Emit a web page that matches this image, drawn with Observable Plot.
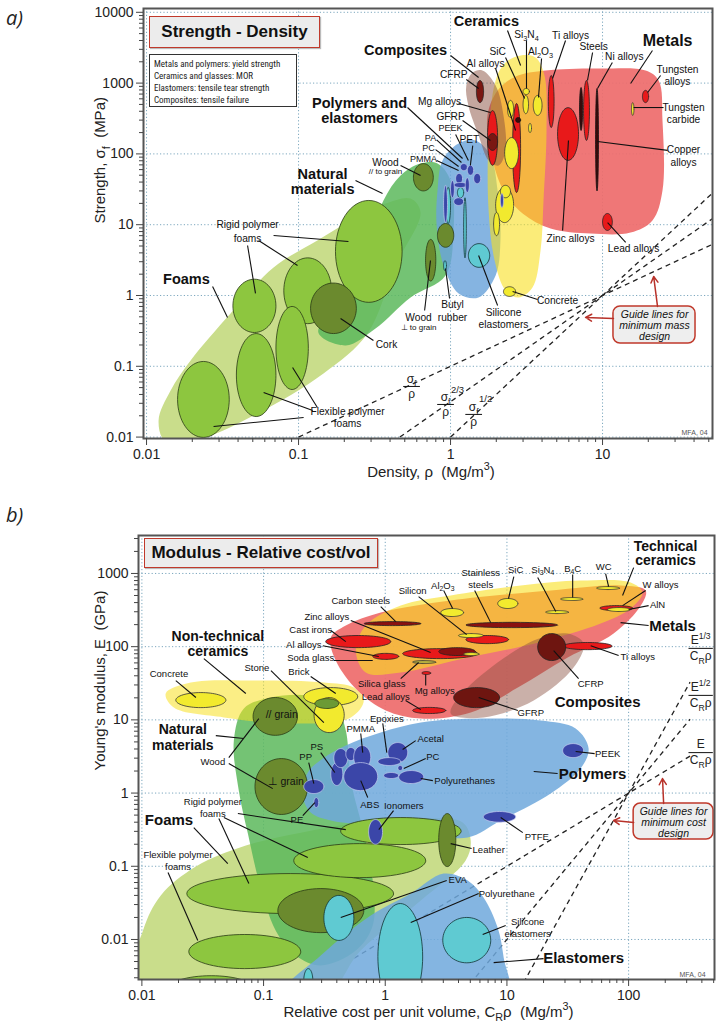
<!DOCTYPE html>
<html><head><meta charset="utf-8">
<script src="https://cdn.jsdelivr.net/npm/d3@7"></script>
<script src="https://cdn.jsdelivr.net/npm/@observablehq/plot@0.6"></script>
<style>
body{margin:0;background:#fff;font-family:"Liberation Sans",Arial,Helvetica,sans-serif;}
#wrap{position:relative;width:716px;height:1027px;overflow:hidden;background:#fff;}
.abs{position:absolute;}
.tag{position:absolute;font-family:"Open Sans","Liberation Sans",sans-serif;font-style:italic;font-size:20px;color:#222;}
.title{position:absolute;box-sizing:border-box;border:1.5px solid #c0392b;background:#ececec;font-weight:bold;font-size:17px;display:flex;align-items:center;justify-content:center;color:#111;box-shadow:1px 1px 1px #bbb;}
.info{position:absolute;box-sizing:border-box;border:1.5px solid #333;background:#fff;font-family:"Liberation Sans Narrow","Roboto Condensed","Liberation Sans",sans-serif;font-size:9px;line-height:12px;padding:3px 4px;color:#222;}
</style></head>
<body><div id="wrap">
<div id="chartA" class="abs" style="left:0;top:0"></div>
<div id="chartB" class="abs" style="left:0;top:490px"></div>
<div class="tag" style="left:6px;top:4px">a)</div>
<div class="tag" style="left:6px;top:501px">b)</div>
<div class="title" style="left:149px;top:16px;width:171px;height:32px">Strength - Density</div>
<div class="info" style="left:149px;top:54px;width:148px;height:53px">Metals and polymers: yield strength<br>Ceramics and glasses: MOR<br>Elastomers: tensile tear strength<br>Composites: tensile failure</div>
<div class="title" style="left:144px;top:538px;width:234px;height:30px">Modulus - Relative cost/vol</div>
</div>
<script>
// ================= CHART A : Strength (MPa) vs Density (Mg/m3) =================
const aXTicks = [0.01, 0.1, 1, 10];
const aYTicks = [0.01, 0.1, 1, 10, 100, 1000, 10000];

// material bubbles: [name, density min, density max, strength min, strength max]
const aFoamCells = [
  ["Rigid polymer foam (low)", 0.037, 0.071, 0.30, 1.7],
  ["Rigid polymer foam (mid)", 0.08, 0.165, 0.40, 3.4],
  ["Rigid polymer foam (high)", 0.175, 0.48, 0.8, 22],
  ["Flexible polymer foam (low)", 0.016, 0.035, 0.0099, 0.117],
  ["Flexible polymer foam (mid)", 0.039, 0.071, 0.0195, 0.29],
  ["Flexible polymer foam (high)", 0.071, 0.116, 0.047, 0.70]
];
const aNaturalCells = [
  ["Cork", 0.12, 0.24, 0.29, 1.5],
  ["Wood // grain", 0.57, 0.77, 30, 73],
  ["Wood ⊥ grain", 0.685, 0.80, 1.6, 6.2],
  ["Dense wood", 0.82, 1.05, 4.8, 10.4]
];
const aMetalCells = [
  ["Mg alloys", 1.75, 2.04, 69, 410],
  ["Al alloys", 2.56, 2.89, 28.5, 515],
  ["Ti alloys", 4.4, 4.8, 236, 1280],
  ["Zinc alloys", 5.06, 6.95, 81, 450],
  ["Steels", 7.5, 8.2, 155, 1090],
  ["Tungsten alloys", 18.3, 20.1, 530, 790],
  ["Lead alloys", 10, 11.6, 8.3, 14.4]
];
const aMetalDarkCells = [
  ["Al alloys (high strength)", 2.68, 2.89, 278, 327],
  ["Stainless steels", 7.06, 7.39, 214, 867],
  ["Copper alloys", 9.0, 9.4, 30, 840]
];
const aCeramicCells = [
  ["Si3N4", 3.0, 3.3, 690, 840],
  ["SiC", 3.0, 3.26, 370, 670],
  ["Al2O3", 3.5, 4.0, 350, 670],
  ["B4C", 2.37, 2.6, 327, 570],
  ["Silica glass", 2.27, 2.8, 62, 170],
  ["AlN", 3.26, 3.41, 200, 270],
  ["Stone", 1.98, 2.6, 10.7, 33.5],
  ["Brick", 1.92, 2.1, 7.0, 14.9],
  ["Soda glass", 2.13, 2.48, 24, 36],
  ["Concrete", 2.23, 2.68, 0.97, 1.33],
  ["Tungsten carbide", 15.5, 16.1, 350, 530]
];
const aCompositeCells = [
  ["CFRP", 1.48, 1.65, 530, 1090],
  ["GFRP", 1.75, 2.04, 112, 194]
];
const aElastomerCells = [
  ["Silicone elastomers", 1.31, 1.81, 2.5, 5.4],
  ["Butyl rubber", 0.90, 0.94, 2.25, 3.1],
  ["Polyurethane", 1.22, 1.27, 3.4, 24],
  ["Neoprene", 1.11, 1.22, 24, 33.5],
  ["Natural rubber", 0.93, 1.0, 10.4, 33.5]
];
const aPolymerCells = [
  ["PA", 1.16, 1.29, 58, 73],
  ["PET", 1.29, 1.42, 50, 69],
  ["PC", 1.42, 1.58, 38, 53],
  ["PMMA", 1.08, 1.2, 38, 53],
  ["PEEK", 1.05, 1.29, 33.5, 39.5],
  ["PS", 1.05, 1.22, 18.7, 24],
  ["PP", 1.0, 1.06, 24, 42],
  ["ABS", 1.25, 1.33, 28.5, 46],
  ["PE", 0.90, 0.955, 10.7, 36],
  ["PTFE", 2.13, 2.23, 17.5, 27.6]
];

// family envelopes: [density, strength] outline vertices
const aEnvFoams = [[0.012,0.0172],[0.0144,0.0455],[0.0195,0.121],[0.0357,0.557],[0.0685,2.49],[0.133,5.98],[0.22,11.5],[0.373,19.9],[0.546,23.4],[0.635,14.9],[0.435,2.65],[0.284,0.29],[0.146,0.079],[0.0537,0.0215],[0.0227,0.0095],[0.0133,0.0087]];
const aEnvNatural = [[0.135,0.30],[0.189,0.85],[0.276,4.32],[0.362,22],[0.469,49.5],[0.635,73],[0.821,73],[1.0,42],[1.046,8.28],[0.927,1.92],[0.546,0.94],[0.321,0.342],[0.204,0.197]];
const aEnvPolymers = [[0.821,30.4],[0.886,80.7],[1.13,140],[1.46,155],[1.83,95],[2.04,30.4],[2.13,5.98],[1.98,1.92],[1.53,0.94],[1.13,1.07],[0.90,2.65],[0.81,9.75]];
const aEnvMetals = [[1.75,349],[2.04,786],[2.68,1240],[4.22,1507],[9.7,1607],[19.2,1507],[23.4,1088],[24.8,296],[24.8,30.4],[21.3,11.5],[15.3,7.76],[8.34,7.51],[4.55,8.84],[2.98,14.4],[2.23,30.4],[1.83,112]];
const aEnvCeramics = [[1.98,1088],[2.30,1954],[2.89,2455],[3.62,2300],[4.15,1280],[4.28,214],[4.09,22],[3.91,4.32],[3.46,1.30],[2.80,0.94],[2.30,1.18],[1.95,3.12],[1.78,15.9],[1.78,155]];
const aEnvComposites = [[1.27,925],[1.40,1412],[1.62,1507],[1.98,925],[2.23,349],[2.30,112],[2.07,68.6],[1.78,80.7],[1.53,182],[1.31,483]];

// guide lines for minimum mass design: [x1, y1, x2, y2]
const aGuides = [[0.1,0.01,60,6],[0.464,0.01,60,14.7],[1,0.01,60,36]];
const aFractions = [["σ_{f}","ρ","",0.554,0.0519],["σ_{f}","ρ","2/3",0.927,0.0289],["σ_{f}","ρ","1/2",1.42,0.0209]];
const aGuideBox = [[11.8,40.9,0.21,0.70]];
const aGuideText = [["Guide lines for",22,0.539],["minimum mass",22,0.377],["design",22,0.264]];
const aArrows = [[11.8,0.473,7.73,0.489],[23,0.70,21.7,1.85]];

const aGroupLabels = [
  ["Ceramics",1.72,7410],["Composites",0.506,2885],["Polymers and",0.252,515],["elastomers",0.252,316],
  ["Natural",0.144,51.2],["materials",0.144,31.4],["Foams",0.0183,1.68]
];
const aBigLabels = [["Metals",26.8,4000]];
const aLabels = [
  ["Si_{3}N_{4}",3.16,4855],["SiC",2.04,2794],["Al_{2}O_{3}",3.91,2794],["Al alloys",1.70,1892],
  ["Ti alloys",6.16,4700],["Steels",8.73,3289],["Ni alloys",13.9,2376],
  ["Tungsten",31.1,1556],["alloys",31.1,1054],["Tungsten",34.1,452],["carbide",34.1,306],
  ["Copper",34.1,115],["alloys",34.1,75.6],["Zinc alloys",6.16,6.38],["Lead alloys",16.0,4.61],
  ["Concrete",5.06,0.85],["Silicone",2.23,0.575],["elastomers",2.23,0.389],
  ["Butyl",1.03,0.746],["rubber",1.03,0.489],["Wood",0.616,0.489],["Wood",0.373,75.6],
  ["PET",1.33,160],["GFRP",1.0,338],["Mg alloys",0.847,550],["CFRP",1.05,1322],
  ["Rigid polymer",0.0462,10.1],["foams",0.0462,6.38],["Cork",0.379,0.203],
  ["Flexible polymer",0.21,0.023],["foams",0.21,0.0156]
];
const aPolymerLabels = [["PEEK",1.0,228],["PA",0.738,165],["PC",0.717,119],["PMMA",0.664,84.7]];
const aTinyLabels = [["⊥ to grain",0.616,0.353],["// to grain",0.373,56.4]];
const aLeaders = [
  [3.16,4000,3.16,840],[2.30,2300,3.07,606],[3.97,2225,3.79,626],[1.98,1607,2.68,214],
  [5.71,4000,4.69,1161],[8.6,2705,7.96,1088],[11.6,1954,9.27,840],[21.3,2885,15.3,987],
  [24.1,1280,19.8,736],[16.0,452,25.2,452],[9.27,150,26.8,112],[5.97,155,5.46,8.28],
  [10.8,10.7,14.2,5.61],[2.56,1.14,3.74,0.878],[1.53,3.67,2.04,0.722],[0.927,2.41,0.985,0.907],
  [0.738,3.12,0.675,0.614],[0.469,68.6,0.635,49.5],[0.81,80.7,1.13,58.3],[0.797,115,1.13,66.4],
  [0.81,158,1.18,75.6],[1.08,188,1.31,80.7],[1.40,131,1.35,68.6],[1.2,296,1.83,155],
  [1.13,515,1.83,384],[1.27,1124,1.53,840],[1.0,2455,1.53,1200],[2.37,5535,2.89,1773],
  [0.521,452,1.2,86.1],[0.237,42.1,0.357,27.6],[0.0272,1.34,0.0341,0.489],
  [0.0462,5.08,0.0521,1.07],[0.0546,5.98,0.0985,2.65],[0.0685,7.04,0.213,5.79],
  [0.189,0.473,0.311,0.231],[0.108,0.0189,0.0276,0.0141],[0.124,0.0238,0.0589,0.0427],
  [0.133,0.0262,0.0914,0.0962]
];
const aCredit = [["MFA, 04",49.1,0.0116]];

// ================= CHART B : Modulus (GPa) vs Relative cost per unit volume =================
const bXTicks = [0.01, 0.1, 1, 10, 100];
const bYTicks = [0.01, 0.1, 1, 10, 100, 1000];

const bFoamCells = [
  ["Flexible polymer foam (low)", 0.0243, 0.202, 0.0040, 0.0117],
  ["Flexible polymer foam (very low)", 0.016, 0.086, 0.0013, 0.0032],
  ["Rigid polymer foam (low)", 0.0234, 1.17, 0.0226, 0.0795],
  ["Rigid polymer foam (mid)", 0.177, 2.15, 0.070, 0.204],
  ["Rigid polymer foam (high)", 0.43, 4.2, 0.198, 0.463]
];
const bNaturalCells = [
  ["Cork", 0.131, 0.666, 0.0124, 0.0496],
  ["Wood // grain", 0.082, 0.19, 6.15, 20.2],
  ["Wood ⊥ grain", 0.085, 0.23, 0.51, 2.96],
  ["Leather", 2.75, 3.8, 0.099, 0.525]
];
const bNonTechCells = [
  ["Concrete", 0.019, 0.049, 14.7, 23.6],
  ["Brick", 0.214, 0.594, 15.7, 27.6],
  ["Stone", 0.26, 0.46, 6.7, 20.2]
];
const bStoneDenseCells = [["Dense stone", 0.264, 0.415, 14.3, 19.5]];
const bPolymerCells = [
  ["PP", 0.214, 0.313, 0.985, 1.53],
  ["PE", 0.259, 0.284, 0.634, 0.868],
  ["PS", 0.357, 0.448, 1.27, 2.61],
  ["PA", 0.378, 0.492, 2.23, 4.05],
  ["PET", 0.474, 0.573, 2.78, 4.19],
  ["PMMA", 0.55, 0.76, 2.16, 4.46],
  ["ABS", 0.456, 0.867, 1.08, 2.61],
  ["Acetal", 1.05, 1.53, 2.61, 4.9],
  ["Epoxies", 0.87, 1.34, 2.38, 3.05],
  ["PC", 1.27, 1.39, 2.03, 2.38],
  ["Polyurethanes", 1.29, 2.07, 1.35, 2.03],
  ["PVC", 0.97, 1.29, 1.58, 1.91],
  ["Ionomers", 0.73, 0.95, 0.2, 0.435],
  ["PTFE", 6.4, 11.8, 0.40, 0.56],
  ["PEEK", 28.7, 42.7, 3.05, 4.74]
];
const bElastomerCells = [
  ["EVA", 0.313, 0.552, 0.0097, 0.040],
  ["Polyurethane", 0.87, 2.03, 0.0011, 0.031],
  ["Silicone elastomers", 2.97, 7.36, 0.0048, 0.020],
  ["Natural rubber", 0.214, 0.254, 0.0019, 0.0040]
];
const bMetalCells = [
  ["Cast irons", 0.324, 1.11, 97, 142],
  ["Al alloys", 0.79, 1.29, 67, 81],
  ["Zinc alloys", 1.39, 5.75, 68.7, 94],
  ["Mg alloys", 2.0, 2.36, 41.6, 45.7],
  ["Lead alloys", 1.68, 3.14, 12.2, 14.8],
  ["Copper alloys", 4.6, 10.3, 110, 142],
  ["W alloys", 58, 108, 311, 364],
  ["Ti alloys", 29, 73, 91, 114]
];
const bMetalDarkCells = [
  ["Carbon steels", 0.67, 1.96, 194, 220],
  ["Ni alloys", 2.75, 5.5, 75.7, 97],
  ["Stainless steels", 4.6, 26, 182, 215]
];
const bGlassCells = [["Silica glass", 1.68, 2.6, 58.8, 64.6]];
const bCeramicCells = [
  ["Soda glass", 4.4, 5.9, 75.7, 83],
  ["Silicon", 4.0, 6.4, 133, 151],
  ["Al2O3", 2.86, 4.4, 258, 332],
  ["SiC", 8.4, 12.3, 332, 455],
  ["Si3N4", 20.8, 32, 283, 311],
  ["B4C", 27.6, 42, 427, 469],
  ["WC", 54.6, 84, 603, 662],
  ["AlN", 67, 104, 302, 342]
];
const bCompositeCells = [
  ["CFRP", 17.9, 30.4, 64.6, 151],
  ["GFRP", 3.65, 8.7, 14.7, 27.6]
];

const bEnvFoams = [[0.008,0.0015],[0.0102,0.0132],[0.0143,0.0398],[0.0278,0.099],[0.0715,0.192],[0.202,0.288],[0.629,0.396],[1.96,0.449],[4.33,0.396],[5.04,0.224],[4.58,0.12],[1.96,0.034],[0.629,0.00705],[0.295,0.0015]];
const bEnvNatural = [[0.057,5.21],[0.0689,14.3],[0.115,20.2],[0.231,21.5],[0.392,15.7],[0.474,7.14],[0.521,1.48],[0.692,0.224],[0.789,0.0638],[0.789,0.0155],[0.573,0.00705],[0.295,0.0044],[0.184,0.00603],[0.126,0.0132],[0.0914,0.0638],[0.0743,0.28],[0.0626,1.08]];
const bEnvNonTech = [[0.0157,22.9],[0.0252,32.3],[0.0897,34.4],[0.313,32.3],[0.551,27.6],[0.666,18.4],[0.521,10.8],[0.167,8.89],[0.0472,10.8],[0.0183,14.7]];
const bEnvPolymers = [[0.21,0.924],[0.231,1.91],[0.307,2.96],[0.474,4.46],[0.918,6.71],[1.96,9.19],[6.09,10.4],[18.9,9.78],[36.7,7.6],[46.9,4.05],[40.3,2.16],[22.9,0.985],[8.89,0.421],[4.76,0.247],[1.96,0.288],[0.76,0.36],[0.357,0.421],[0.244,0.542]];
const bEnvElastomers = [[0.13,0.0015],[0.295,0.00603],[0.76,0.0212],[1.62,0.0425],[3.02,0.0795],[4.76,0.0638],[6.44,0.0373],[8.4,0.0145],[9.4,0.00566],[10.1,0.0015]];
const bEnvMetals = [[0.357,133],[0.474,194],[0.918,292],[3.45,427],[22.9,584],[85.9,684],[138,584],[126,364],[75.3,151],[31.6,71],[12.3,27.6],[5.04,12.6],[1.96,10.4],[1.01,13.4],[0.593,25.1],[0.392,64.6]];
const bEnvTechCeramics = [[0.573,88.5],[0.692,194],[1.34,364],[3.45,499],[13.0,684],[40.3,800],[104,751],[130,548],[104,331],[58.9,207],[16.6,110],[4.76,71],[1.34,44.3],[0.692,44.3]];
const bEnvComposites = [[3.45,12.2],[4.76,27.6],[16.6,121],[31.6,151],[42.7,110],[35.3,51.8],[16.6,18.4],[6.44,10.8]];

const bGuides = [[0.2,0.002,320,3.2],[4.47,0.002,320,10.2],[12.6,0.002,320,32.8]];
const bFractions = [["E","C_{R}ρ",391,3.57],["E^{1/2}","C_{R}ρ",391,21.6],["E^{1/3}","C_{R}ρ",391,94.8]];
const bGuideBox = [[110,499,0.232,0.719]];
const bGuideText = [["Guide lines for",234,0.562],["minimum cost",234,0.398],["design",234,0.282]];
const bArrows = [[110,0.396,75.3,0.421],[194,0.719,190,1.58]];

const bGroupLabels = [
  ["Technical",201,2330],["ceramics",201,1500],["Non-technical",0.0421,137],["ceramics",0.0421,85.7],
  ["Natural",0.0217,7.36],["materials",0.0217,4.46]
];
const bBigLabels = [["Metals",230,190],["Composites",55.6,17.2],["Polymers",50.6,1.79],["Elastomers",42.7,0.00548],["Foams",0.0167,0.421]];
const bLabels = [
  ["Concrete",0.0167,42.9],["Stone",0.0881,51.8],["Brick",0.195,45.7],["Wood",0.0383,2.7],
  ["Rigid polymer",0.0383,0.765],["foams",0.0383,0.525],["Flexible polymer",0.0198,0.145],["foams",0.0198,0.099],
  ["PP",0.222,3.15],["PS",0.274,4.32],["PE",0.188,0.435],["PMMA",0.629,7.6],["Epoxies",1.03,10.4],
  ["Acetal",2.36,5.56],["PC",2.46,3.15],["Polyurethanes",4.5,1.48],["ABS",0.746,0.697],["Ionomers",1.42,0.675],
  ["PTFE",17.6,0.255],["PEEK",67.3,3.46],["Leather",7.08,0.169],["EVA",3.94,0.0658],["Polyurethane",9.95,0.0424],
  ["Silicone",14.8,0.0176],["elastomers",14.8,0.012],["GFRP",15.7,12.6],["CFRP",48.8,31.3],["Ti alloys",119,73.3],
  ["AlN",173,376],["W alloys",183,705],["WC",62.4,1242],["B_{4}C",34.7,1167],["Si_{3}N_{4}",19.7,1131],["SiC",11.8,1131],
  ["Stainless",6.09,1028],["steels",6.09,705],["Al_{2}O_{3}",2.97,684],["Silicon",1.68,584],["Carbon steels",0.629,427],
  ["Zinc alloys",0.331,258],["Cast irons",0.244,171],["Al alloys",0.214,107],["Soda glass",0.244,71],
  ["Silica glass",0.936,31.3],["Lead alloys",1.01,20.8],["Mg alloys",2.55,25.1]
];
const bGrainLabels = [["// grain",0.141,11.8],["⊥ grain",0.152,1.44]];
const bLeaders = [
  [0.019,34.4,0.0278,20.2],[0.115,47.1,0.313,9.19],[0.244,39.1,0.392,22.9],[0.0405,6.1,0.0689,5.56],
  [0.0323,68.8,0.0715,22.9],[0.0518,3.05,0.0914,10.4],[0.0518,2.53,0.119,1.15],[0.0267,0.338,0.0508,0.109],
  [0.0429,0.449,0.0757,0.0581],[0.0472,0.463,0.231,0.132],[0.0615,0.525,0.474,0.317],[0.0164,0.082,0.0288,0.00966],
  [0.235,2.61,0.259,1.35],[0.295,3.57,0.385,1.91],[0.21,0.493,0.264,0.742],[0.629,6.5,0.653,3.57],
  [0.954,8.97,1.03,3.57],[1.78,5.21,1.39,3.93],[2.15,2.96,1.42,2.16],[2.46,1.48,1.96,1.58],
  [0.718,0.868,0.629,1.48],[1.17,0.577,0.885,0.317],[13.5,0.288,8.89,0.463],[52.6,3.46,36.7,3.69],
  [16.6,1.97,26.1,1.85],[5.13,0.175,3.45,0.204],[3.2,0.0638,0.431,0.0199],[5.86,0.0425,1.62,0.017],
  [9.77,0.0155,6.32,0.0117],[7.78,0.00483,20.0,0.00548],[12.3,13.4,5.86,20.2],[38.8,36.6,24.2,88.5],
  [82.8,75.7,48.8,103],[85.9,213,146,195],[146,364,100,321],[138,584,89.2,364],[110,1202,89.2,499],
  [64.7,998,68.5,662],[34.7,966,34.7,469],[17.9,879,25.2,302],[11.4,908,10.3,454],[5.43,584,7.36,213],
  [3.02,584,3.58,332],[1.88,483,4.67,146],[0.918,353,1.22,220],[0.521,227,2.36,83],[0.357,166,0.474,117],
  [0.307,103,0.885,73.3],[0.378,64.6,0.789,64.6],[1.34,36.6,1.88,60.7],[1.47,18.4,1.96,13.8],[2.15,29.4,2.15,41.6]
];
const bCredit = [["MFA, 04",429,0.00331]];

// ================= helpers =================
const FONT = "'Liberation Sans', Arial, Helvetica, sans-serif";
const NS = "http://www.w3.org/2000/svg";

function cellOutline(list) {
  const out = [];
  list.forEach((d, i) => {
    const [name, x1, x2, y1, y2] = d;
    const lx1 = Math.log10(x1), lx2 = Math.log10(x2), ly1 = Math.log10(y1), ly2 = Math.log10(y2);
    const cx = (lx1 + lx2) / 2, rx = (lx2 - lx1) / 2, cy = (ly1 + ly2) / 2, ry = (ly2 - ly1) / 2;
    for (let k = 0; k < 64; k++) {
      const t = 2 * Math.PI * k / 64;
      out.push({name, id: i, x: 10 ** (cx + rx * Math.cos(t)), y: 10 ** (cy + ry * Math.sin(t))});
    }
  });
  return out;
}
const cellMark = (list, fill, stroke = "#222", sw = 0.8) =>
  Plot.line(cellOutline(list), {x: "x", y: "y", z: "id", curve: "linear-closed", fill, stroke, strokeWidth: sw, clip: true});
const envMark = (pts, fill, op) =>
  Plot.line(pts.map(([x, y]) => ({x, y})), {x: "x", y: "y", curve: "catmull-rom-closed", fill, fillOpacity: op, stroke: "none", clip: true});
const textMark = (list, opts) =>
  Plot.text(list, {x: d => d[1], y: d => d[2], text: d => d[0], fontFamily: FONT, fill: "#111", ...opts});
const leaderMark = (list) =>
  Plot.link(list, {x1: d => d[0], y1: d => d[1], x2: d => d[2], y2: d => d[3], stroke: "#111", strokeWidth: 1.1});
const guideMark = (list) =>
  Plot.link(list, {x1: d => d[0], y1: d => d[1], x2: d => d[2], y2: d => d[3], stroke: "#222", strokeWidth: 1.3, strokeDasharray: "5,4", clip: true});
function minors(lo, hi) {
  const r = [];
  for (let e = -4; e <= 4; e++) for (let m = 2; m <= 9; m++) { const v = +(m * 10 ** e).toPrecision(3); if (v >= lo && v <= hi) r.push(v); }
  return r;
}
function axes(xt, yt, xd, yd) {
  return [
    Plot.axisX({ticks: xt, tickSize: 7, tickPadding: 4, fontSize: 14, tickFormat: d => String(d), label: null, stroke: "#444"}),
    Plot.axisX({ticks: minors(xd[0], xd[1]), tickSize: 4, tickFormat: () => "", label: null, stroke: "#444"}),
    Plot.axisY({ticks: yt, tickSize: 7, tickPadding: 3, fontSize: 14, tickFormat: d => String(d), label: null, stroke: "#444"}),
    Plot.axisY({ticks: minors(yd[0], yd[1]), tickSize: 4, tickFormat: () => "", label: null, stroke: "#444"})
  ];
}
const grid = (xt, yt) => [
  Plot.gridX({ticks: xt, stroke: "#6f9fb8", strokeOpacity: 0.9, strokeDasharray: "1.2,2.2"}),
  Plot.gridY({ticks: yt, stroke: "#6f9fb8", strokeOpacity: 0.9, strokeDasharray: "1.2,2.2"})
];
function guideBox(box, texts, arrows) {
  return [
    Plot.rect(box, {x1: d => d[0], x2: d => d[1], y1: d => d[2], y2: d => d[3], fill: "#eeeeee", stroke: "#c0392b", strokeWidth: 1.5, rx: 7}),
    textMark(texts, {fontSize: 10.5, fontStyle: "italic"}),
    Plot.arrow(arrows, {x1: d => d[0], y1: d => d[1], x2: d => d[2], y2: d => d[3], stroke: "#b8322a", strokeWidth: 1.5, headLength: 7})
  ];
}

// rich text: _{..} subscript, ^{..} superscript
function rich(svg) {
  svg.querySelectorAll("text").forEach(t => {
    if (t.querySelector("tspan")) return;
    const s = t.textContent;
    if (!/[_^]\{/.test(s)) return;
    const fs = parseFloat(getComputedStyle(t).fontSize) || 12;
    t.textContent = "";
    let shift = 0;
    const add = (txt, kind) => {
      if (!txt) return;
      const ts = document.createElementNS(NS, "tspan");
      const target = kind === "_" ? 0.28 * fs : kind === "^" ? -0.42 * fs : 0;
      if (target !== shift) { ts.setAttribute("dy", (target - shift).toFixed(2)); shift = target; }
      if (kind) ts.setAttribute("font-size", (0.72 * fs).toFixed(1));
      ts.textContent = txt;
      t.appendChild(ts);
    };
    const re = /([_^])\{([^}]*)\}/g; let last = 0, m;
    while ((m = re.exec(s))) { add(s.slice(last, m.index), null); add(m[2], m[1]); last = re.lastIndex; }
    add(s.slice(last), null);
  });
}

// ================= chart A =================
const aXD = [0.00955, 52.9], aYD = [0.00955, 11320];
const chartA = Plot.plot({
  width: 716, height: 490, marginLeft: 143, marginRight: 4, marginTop: 8, marginBottom: 52,
  style: {fontFamily: FONT, fontSize: "14px", background: "transparent", overflow: "visible", color: "#222"},
  x: {type: "log", domain: aXD},
  y: {type: "log", domain: aYD},
  marks: [
    ...grid(aXTicks, aYTicks),
    guideMark(aGuides),
    envMark(aEnvFoams, "#c9dd8b", 1),
    envMark(aEnvNatural, "#5cb85c", 0.85),
    envMark(aEnvPolymers, "#6aa3da", 0.82),
    envMark(aEnvMetals, "#ee6b6b", 0.92),
    envMark(aEnvCeramics, "#f8e020", 0.6),
    envMark(aEnvComposites, "#8a5040", 0.5),
    cellMark(aFoamCells, "#8dc63f", "#2a3a15"),
    cellMark(aNaturalCells, "#6b8a2e", "#2a3a15"),
    cellMark(aMetalCells, "#e8191a", "#222"),
    cellMark(aMetalDarkCells, "#3a0a0a", "#111"),
    cellMark(aCeramicCells, "#f2ea2e", "#333"),
    cellMark(aCompositeCells, "#7a1712", "#222"),
    cellMark(aElastomerCells, "#5fcad2", "#133"),
    cellMark(aPolymerCells, "#3b46a8", "#c8d0f0", 0.7),
    leaderMark(aLeaders),
    textMark(aGroupLabels, {fontSize: 14.5, fontWeight: "bold"}),
    textMark(aBigLabels, {fontSize: 16, fontWeight: "bold"}),
    textMark(aLabels, {fontSize: 10.2}),
    textMark(aPolymerLabels, {fontSize: 9}),
    textMark(aTinyLabels, {fontSize: 8}),
    textMark(aCredit, {fontSize: 7, textAnchor: "end", fill: "#555"}),
    Plot.text(aFractions, {x: d => d[3], y: d => d[4], text: d => d[0], dy: -7, fontSize: 12, fontFamily: FONT}),
    Plot.text(aFractions, {x: d => d[3], y: d => d[4], text: d => d[1], dy: 8, fontSize: 12, fontFamily: FONT}),
    Plot.text(aFractions.filter(d => d[2]), {x: d => d[3], y: d => d[4], text: d => d[2], dx: 12, dy: -15, fontSize: 9.5, fontFamily: FONT}),
    Plot.link(aFractions, {x1: d => d[3] / 10 ** 0.055, x2: d => d[3] * 10 ** 0.055, y1: d => d[4], y2: d => d[4], stroke: "#111", strokeWidth: 1}),
    ...guideBox(aGuideBox, aGuideText, aArrows),
    Plot.frame({stroke: "#555", strokeWidth: 2}),
    ...axes(aXTicks, aYTicks, aXD, aYD),
    Plot.text(["Density, ρ  (Mg/m^{3})"], {frameAnchor: "bottom", dx: 3, dy: 38, fontSize: 15, fontFamily: FONT}),
    Plot.text(["Strength, σ_{f}  (MPa)"], {frameAnchor: "left", dx: -43, rotate: -90, fontSize: 15, fontFamily: FONT})
  ]
});
document.getElementById("chartA").appendChild(chartA);
rich(chartA);

// ================= chart B =================
const bXD = [0.00938, 508], bYD = [0.00284, 3300];
const chartB = Plot.plot({
  width: 716, height: 537, marginLeft: 138, marginRight: 2, marginTop: 45, marginBottom: 48,
  style: {fontFamily: FONT, fontSize: "14px", background: "transparent", overflow: "visible", color: "#222"},
  x: {type: "log", domain: bXD},
  y: {type: "log", domain: bYD},
  marks: [
    ...grid(bXTicks, bYTicks),
    guideMark(bGuides),
    envMark(bEnvFoams, "#c9dd8b", 1),
    envMark(bEnvNatural, "#5cb85c", 0.85),
    envMark(bEnvNonTech, "#f8e020", 0.55),
    envMark(bEnvPolymers, "#6fa8dc", 0.85),
    envMark(bEnvElastomers, "#6fa8dc", 0.85),
    envMark(bEnvMetals, "#ee6b6b", 0.92),
    envMark(bEnvTechCeramics, "#f8e020", 0.6),
    envMark(bEnvComposites, "#8a5040", 0.45),
    cellMark(bFoamCells, "#8dc63f", "#2a3a15"),
    cellMark(bNaturalCells, "#6b8a2e", "#2a3a15"),
    cellMark(bNonTechCells, "#f2ea2e", "#333"),
    cellMark(bStoneDenseCells, "#6b9a35", "#2a3a15"),
    cellMark(bPolymerCells, "#3b46a8", "#c8d0f0", 0.7),
    cellMark(bElastomerCells, "#5fcad2", "#133"),
    cellMark(bMetalCells, "#e8191a", "#222"),
    cellMark(bMetalDarkCells, "#8a1010", "#222"),
    cellMark(bGlassCells, "#b8b040", "#333"),
    cellMark(bCeramicCells, "#f2ea2e", "#333"),
    cellMark(bCompositeCells, "#6e1510", "#222"),
    leaderMark(bLeaders),
    textMark(bGroupLabels, {fontSize: 14, fontWeight: "bold"}),
    textMark(bBigLabels, {fontSize: 15, fontWeight: "bold"}),
    textMark(bLabels, {fontSize: 9.5}),
    textMark(bGrainLabels, {fontSize: 10.5}),
    textMark(bCredit, {fontSize: 7, textAnchor: "end", fill: "#555"}),
    Plot.text(bFractions, {x: d => d[2], y: d => d[3], text: d => d[0], dy: -8, fontSize: 12, fontFamily: FONT}),
    Plot.text(bFractions, {x: d => d[2], y: d => d[3], text: d => d[1], dy: 8, fontSize: 12, fontFamily: FONT}),
    Plot.link(bFractions, {x1: d => d[2] / 10 ** 0.1, x2: d => d[2] * 10 ** 0.1, y1: d => d[3], y2: d => d[3], stroke: "#111", strokeWidth: 1}),
    ...guideBox(bGuideBox, bGuideText, bArrows),
    Plot.frame({stroke: "#555", strokeWidth: 2}),
    ...axes(bXTicks, bYTicks, bXD, bYD),
    Plot.text(["Relative cost per unit volume, C_{R}ρ  (Mg/m^{3})"], {frameAnchor: "bottom", dx: 2, dy: 37, fontSize: 15, fontFamily: FONT}),
    Plot.text(["Young's modulus, E  (GPa)"], {frameAnchor: "left", dx: -38, dy: 13, rotate: -90, fontSize: 15, fontFamily: FONT})
  ]
});
document.getElementById("chartB").appendChild(chartB);
rich(chartB);
</script>
</body></html>
